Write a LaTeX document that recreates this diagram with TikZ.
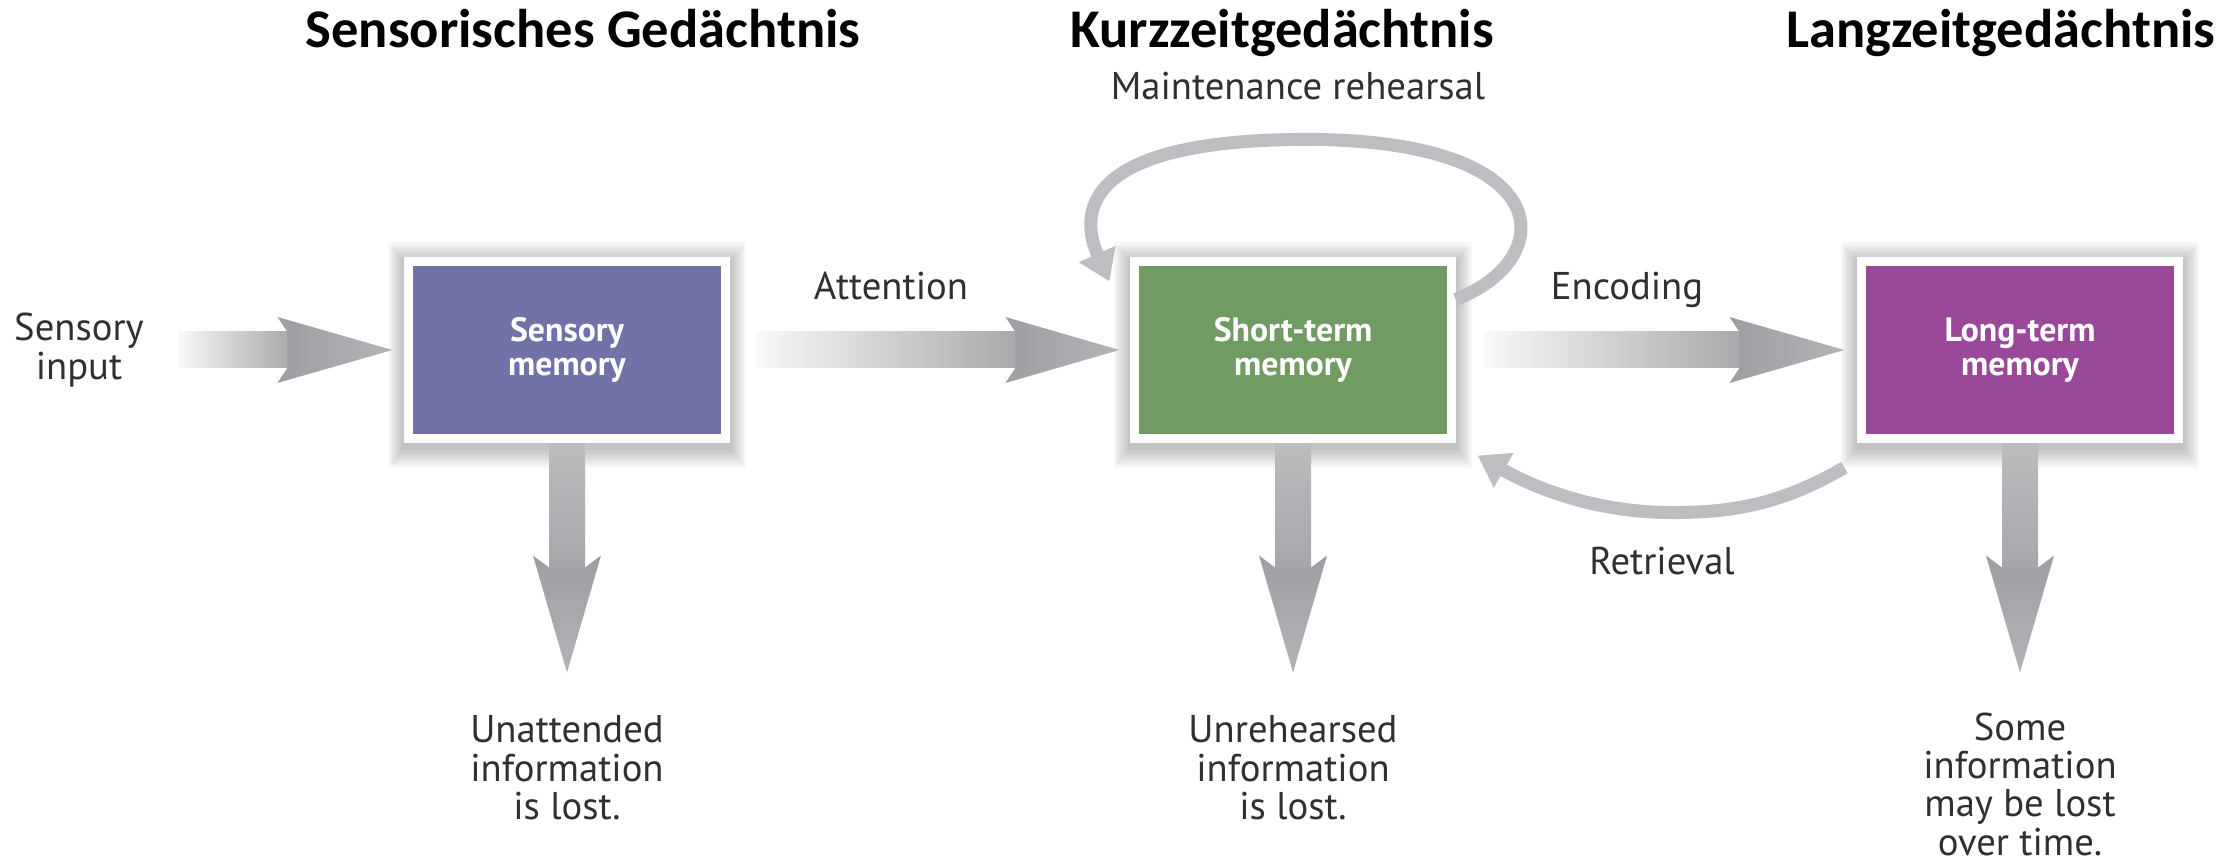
\documentclass[tikz,border=0pt]{standalone}
\usepackage{fontspec}
\setmainfont{PT Sans}
\newfontfamily\titlefont{Carlito}
\usetikzlibrary{calc,arrows.meta}
\definecolor{sensc}{RGB}{113,114,168}
\definecolor{stmc}{RGB}{112,156,100}
\definecolor{ltmc}{RGB}{154,72,154}
\definecolor{txtc}{RGB}{48,48,50}
\definecolor{arcc}{RGB}{190,190,194}
\definecolor{shaftlight}{RGB}{248,248,249}
\definecolor{shaftdark}{RGB}{168,168,171}
\definecolor{headdark}{RGB}{158,158,162}
\definecolor{headlight}{RGB}{180,180,184}
\definecolor{vtop}{RGB}{188,188,191}
\definecolor{vbot}{RGB}{166,166,170}
\pgfdeclarelayer{bg}
\pgfsetlayers{bg,main}
\begin{document}
\begin{tikzpicture}[x=0.01cm,y=-0.01cm,
  membox/.style={draw=white, line width=0.09cm, minimum width=3.16cm, minimum height=1.76cm, inner sep=0pt, align=center, text=white, font=\bfseries\fontsize{9.6}{9.8}\selectfont},
  titletext/.style={font=\titlefont\bfseries\fontsize{15.5}{18}\selectfont, text=black, inner sep=0pt, anchor=base},
  lbl/.style={font=\fontsize{11}{10.9}\selectfont, text=txtc, inner sep=0pt, align=center},
  loopline/.style={draw=arcc, line width=0.13cm, -{Triangle[width=0.38cm,length=0.3cm]}},
  hshaft/.style={left color=shaftlight, right color=shaftdark},
  hhead/.style={left color=headdark, right color=headlight},
  vshaft/.style={top color=vtop, bottom color=vbot},
  vhead/.style={top color=headdark, bottom color=headlight},
  shadowfill/.style={fill=black, opacity=0.03}
]
\useasboundingbox (0,0) rectangle (2218,862);

% boxes
\node[membox, fill=sensc] (sm) at (567,350) {Sensory\\memory};
\node[membox, fill=stmc] (stm) at (1293,350) {Short-term\\memory};
\node[membox, fill=ltmc] (ltm) at (2020,350) {Long-term\\memory};

% shadows and background
\begin{pgfonlayer}{bg}
\fill[white] (0,0) rectangle (2218,862);
\foreach \b in {sm,stm,ltm}{
  \foreach \k in {1,...,8}{
    \fill[shadowfill] ($(\b.north west)+(-\k*2,-\k*2.5+5)$) rectangle ($(\b.south east)+(\k*2,\k*2.5+5)$);
  }
}
\end{pgfonlayer}

% titles
\node[titletext] (t1) at (583,48) {Sensorisches Gedächtnis};
\node[titletext] (t2) at (1282,48) {Kurzzeitgedächtnis};
\node[titletext, anchor=base east] (t3) at (2216,48) {Langzeitgedächtnis};

% labels
\node[lbl, anchor=base] (mr) at (1298,100) {Maintenance rehearsal};
\node[lbl, anchor=base] (att) at (891,300) {Attention};
\node[lbl, anchor=base] (enc) at (1627,300) {Encoding};
\node[lbl, anchor=base] (ret) at (1662,575) {Retrieval};
\node[lbl] (inp) at (79,350) {Sensory\\input};
\node[lbl] (l1) at (567,768) {Unattended\\information\\is lost.};
\node[lbl] (l2) at (1293,768) {Unrehearsed\\information\\is lost.};
\node[lbl] (l3) at (2020,784) {Some\\information\\may be lost\\over time.};

% input arrow
\shade[hshaft] ($(inp.east)+(34,-18)$) rectangle ($(sm.west)+(-113,18)$);
\shade[hhead] ($(sm.west)+(-127,-33)$) -- ($(sm.west)+(-12,0)$) -- ($(sm.west)+(-127,33)$) -- ($(sm.west)+(-117,18)$) -- ($(sm.west)+(-117,-18)$) -- cycle;

% attention arrow
\shade[hshaft] ($(sm.east)+(27,-18)$) rectangle ($(stm.west)+(-111,18)$);
\shade[hhead] ($(stm.west)+(-125,-33)$) -- ($(stm.west)+(-11,0)$) -- ($(stm.west)+(-125,33)$) -- ($(stm.west)+(-115,18)$) -- ($(stm.west)+(-115,-18)$) -- cycle;

% encoding arrow
\shade[hshaft] ($(stm.east)+(29,-18)$) rectangle ($(ltm.west)+(-114,18)$);
\shade[hhead] ($(ltm.west)+(-128,-33)$) -- ($(ltm.west)+(-13,0)$) -- ($(ltm.west)+(-128,33)$) -- ($(ltm.west)+(-118,18)$) -- ($(ltm.west)+(-118,-18)$) -- cycle;

% down arrows
\foreach \b in {sm,stm,ltm}{
  \shade[vshaft] ($(\b.south)+(-18,1)$) rectangle ($(\b.south)+(18,127)$);
  \shade[vhead] ($(\b.south)+(-34,113)$) -- ($(\b.south)+(-18,125)$) -- ($(\b.south)+(18,125)$) -- ($(\b.south)+(34,113)$) -- ($(\b.south)+(0,230)$) -- cycle;
}

% maintenance rehearsal loop
\draw[loopline] ($(stm.north east)+(0,42)$) .. controls ($(stm.north east)+(104,2)$) and ($(stm.north east)+(104,-118)$) .. ($(stm.north east)+(-149,-118)$)
  .. controls ($(stm.north east)+(-376,-118)$) and ($(stm.north east)+(-376,-43)$) .. ($(stm.north west)+(-21,24)$);

% retrieval arc
\draw[loopline] ($(ltm.south west)+(-13,25)$) .. controls ($(ltm.south west)+(-78,63)$) and ($(ltm.south west)+(-128,70)$) .. ($(ltm.south west)+(-185,70)$)
  .. controls ($(ltm.south west)+(-258,70)$) and ($(ltm.south west)+(-318,48)$) .. ($(stm.south east)+(22,13)$);
\end{tikzpicture}
\end{document}
